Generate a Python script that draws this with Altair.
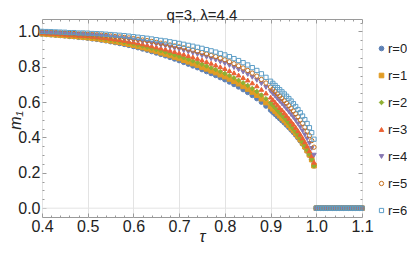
import altair as alt
import pandas as pd

# ---------------- data ----------------
series_names = ["r=0", "r=1", "r=2", "r=3", "r=4", "r=5", "r=6"]

tau_main = [0.40, 0.41, 0.42, 0.43, 0.44, 0.45, 0.46, 0.47, 0.48, 0.49,
            0.50, 0.51, 0.52, 0.53, 0.54, 0.55, 0.56, 0.57, 0.58, 0.59,
            0.60, 0.61, 0.62, 0.63, 0.64, 0.65, 0.66, 0.67, 0.68, 0.69,
            0.70, 0.71, 0.72, 0.73, 0.74, 0.75, 0.76, 0.77, 0.78, 0.79,
            0.80, 0.81, 0.82, 0.83, 0.84, 0.85, 0.86, 0.87, 0.88, 0.89,
            0.90,
            0.905, 0.91, 0.915, 0.92, 0.925, 0.93, 0.935, 0.94, 0.945, 0.95,
            0.955, 0.96, 0.965, 0.97, 0.975, 0.98, 0.985, 0.99, 0.995]

tau_zero = [1.000, 1.005, 1.010, 1.015, 1.020, 1.025, 1.030, 1.035, 1.040,
            1.045, 1.050, 1.055, 1.060, 1.065, 1.070, 1.075, 1.080, 1.085,
            1.090, 1.095, 1.100]

m_r0 = [.985, .983, .981, .979, .977, .975, .972, .970, .967, .965,
        .962, .958, .955, .951, .947, .942, .937, .932, .927, .921,
        .915, .908, .901, .894, .886, .878, .870, .862, .853, .844,
        .835, .825, .815, .805, .795, .784, .773, .762, .751, .739,
        .727, .714, .700, .686, .671, .655, .638, .620, .600, .578,
        .555,
        .543, .531, .519, .507, .495, .483, .470, .457, .443, .429,
        .414, .398, .381, .363, .344, .323, .300, .274, .240]

m_r1 = [.987, .985, .983, .981, .979, .977, .975, .973, .970, .968,
        .965, .962, .959, .955, .951, .947, .942, .938, .933, .927,
        .922, .915, .909, .902, .895, .887, .879, .872, .864, .855,
        .847, .837, .828, .818, .809, .798, .788, .777, .767, .755,
        .744, .731, .718, .704, .689, .674, .657, .639, .619, .597,
        .575,
        .562, .549, .536, .523, .510, .497, .483, .469, .454, .439,
        .423, .406, .388, .369, .348, .326, .302, .275, .240]

m_r2 = [.989, .987, .985, .984, .982, .980, .977, .976, .973, .972,
        .969, .966, .963, .960, .956, .952, .948, .944, .939, .934,
        .929, .923, .917, .911, .904, .897, .890, .883, .875, .867,
        .859, .851, .842, .833, .824, .814, .804, .794, .784, .773,
        .762, .750, .737, .723, .709, .694, .677, .660, .640, .619,
        .596,
        .582, .568, .553, .539, .525, .511, .496, .481, .464, .448,
        .431, .413, .394, .373, .352, .329, .304, .276, .240]

m_r3 = [.992, .990, .989, .987, .986, .984, .981, .980, .978, .977,
        .975, .972, .969, .967, .964, .960, .956, .953, .949, .944,
        .940, .935, .929, .924, .918, .912, .906, .900, .893, .886,
        .879, .871, .863, .855, .847, .838, .829, .820, .810, .800,
        .790, .778, .766, .753, .739, .725, .709, .692, .672, .651,
        .628,
        .614, .599, .584, .569, .555, .540, .524, .508, .491, .475,
        .457, .438, .418, .397, .375, .351, .325, .297, .260]

m_r4 = [.995, .993, .992, .991, .989, .988, .986, .985, .983, .982,
        .980, .978, .976, .974, .971, .968, .965, .962, .959, .955,
        .951, .946, .942, .938, .932, .927, .921, .917, .910, .904,
        .898, .891, .884, .877, .870, .862, .854, .845, .837, .827,
        .818, .807, .795, .783, .770, .756, .740, .723, .704, .683,
        .661,
        .647, .633, .618, .604, .590, .576, .560, .545, .529, .513,
        .496, .477, .458, .437, .415, .392, .366, .338, .300]

m_r5 = [.997, .996, .995, .993, .992, .991, .989, .988, .986, .986,
        .984, .982, .981, .979, .977, .974, .971, .969, .966, .963,
        .959, .955, .951, .948, .943, .938, .933, .929, .923, .918,
        .913, .907, .900, .894, .887, .880, .872, .864, .857, .848,
        .839, .828, .817, .805, .793, .779, .764, .747, .728, .708,
        .685,
        .673, .660, .647, .634, .621, .608, .594, .580, .565, .550,
        .534, .517, .499, .480, .458, .435, .410, .382, .345]

m_r6 = [1.000, .999, .998, .997, .996, .995, .993, .993, .991, .991,
        .990, .988, .987, .986, .984, .982, .980, .978, .976, .973,
        .970, .967, .964, .961, .957, .953, .949, .946, .941, .937,
        .932, .927, .921, .916, .910, .904, .897, .890, .883, .875,
        .867, .857, .846, .835, .823, .810, .795, .779, .760, .740,
        .718,
        .706, .694, .682, .670, .658, .646, .633, .620, .606, .591,
        .575, .558, .540, .521, .501, .479, .455, .427, .390]

all_m = [m_r0, m_r1, m_r2, m_r3, m_r4, m_r5, m_r6]

colors = ["#5E81B5", "#E19C24", "#8FB032", "#EB6235", "#8778B3", "#C56E1A", "#5D9EC7"]
fills = ["#5E81B5", "#E19C24", "#8FB032", "#EB6235", "#8778B3", "transparent", "transparent"]
shapes = ["circle", "square", "diamond", "triangle-up", "triangle-down", "circle", "square"]
sizes = [22, 18, 26, 24, 24, 24, 34]

x_ticks = [0.4, 0.5, 0.6, 0.7, 0.8, 0.9, 1.0, 1.1]
y_ticks = [0.0, 0.2, 0.4, 0.6, 0.8, 1.0]
x_minor = [0.42, 0.44, 0.46, 0.48, 0.52, 0.54, 0.56, 0.58, 0.62, 0.64, 0.66, 0.68,
           0.72, 0.74, 0.76, 0.78, 0.82, 0.84, 0.86, 0.88, 0.92, 0.94, 0.96, 0.98,
           1.02, 1.04, 1.06, 1.08]
y_minor = [0.05, 0.1, 0.15, 0.25, 0.3, 0.35, 0.45, 0.5, 0.55, 0.65, 0.7, 0.75,
           0.85, 0.9, 0.95, 1.05]

# ---------------- table ----------------
rows = []
for name, vals in zip(series_names, all_m):
    for t, m in zip(tau_main, vals):
        rows.append({"tau": t, "m": m, "r": name})
    for t in tau_zero:
        rows.append({"tau": t, "m": 0.0, "r": name})
df = pd.DataFrame(rows)
dummy = pd.DataFrame({"tau": [0.7], "m": [0.5]})
zero_line = pd.DataFrame({"m": [0.0]})

FONT = "Liberation Sans"
FRAME = "#9a9a9a"
TXT = "#222222"

xscale = alt.Scale(domain=[0.4, 1.1], nice=False, zero=False)
yscale = alt.Scale(domain=[-0.05, 1.07], nice=False, zero=False)

legend = alt.Legend(orient="none", legendX=333, legendY=23, direction="vertical",
                    padding=0, rowPadding=13, symbolStrokeWidth=1,
                    labelFontSize=13, labelFont=FONT, labelColor=TXT,
                    labelOffset=0, title=None)

grid0 = alt.Chart(zero_line).mark_rule(color="#e3e3e3", strokeWidth=1).encode(
    y=alt.Y("m:Q", scale=yscale, axis=None)
)

points = alt.Chart(df).mark_point(strokeWidth=1, opacity=1).encode(
    x=alt.X("tau:Q", scale=xscale,
            axis=alt.Axis(values=x_ticks, format=".1f", ticks=False, domain=False,
                          grid=True, gridColor="#e3e3e3", labelFontSize=16,
                          labelFont=FONT, labelColor=TXT, labelPadding=1,
                          labelFlush=False, labelOverlap=False,
                          title="τ", titleFont=FONT, titleFontSize=16,
                          titleFontStyle="italic", titleFontWeight="normal",
                          titleColor=TXT, titleX=160, titleY=19,
                          titleBaseline="middle", orient="bottom")),
    y=alt.Y("m:Q", scale=yscale,
            axis=alt.Axis(values=y_ticks, format=".1f", ticks=False, domain=False,
                          grid=False, labelFontSize=16, labelFont=FONT,
                          labelColor=TXT, labelPadding=2,
                          labelFlush=False, labelOverlap=False,
                          title="m₁", titleFont=FONT, titleFontSize=16,
                          titleFontStyle="italic", titleFontWeight="normal",
                          titleColor=TXT, titleAngle=270, titleX=-22,
                          titleY=101, titleAlign="center", titleBaseline="alphabetic",
                          orient="left")),
    stroke=alt.Stroke("r:N", scale=alt.Scale(domain=series_names, range=colors), legend=legend),
    fill=alt.Fill("r:N", scale=alt.Scale(domain=series_names, range=fills), legend=legend),
    shape=alt.Shape("r:N", scale=alt.Scale(domain=series_names, range=shapes), legend=legend),
    size=alt.Size("r:N", scale=alt.Scale(domain=series_names, range=sizes), legend=legend),
)


def tick_layer(xvals, yvals, size, xorient, yorient):
    return alt.Chart(dummy).mark_point(opacity=0).encode(
        x=alt.X("tau:Q", scale=xscale,
                axis=alt.Axis(values=xvals, orient=xorient, offset=-size, tickSize=size,
                              tickColor=FRAME, labels=False, domain=False, grid=False,
                              title=None)),
        y=alt.Y("m:Q", scale=yscale,
                axis=alt.Axis(values=yvals, orient=yorient, offset=-size, tickSize=size,
                              tickColor=FRAME, labels=False, domain=False, grid=False,
                              title=None)),
    )


ticks_a = tick_layer(x_ticks, y_ticks, 4, "bottom", "left")
ticks_b = tick_layer(x_minor, y_minor, 2, "bottom", "left")
ticks_c = tick_layer(x_ticks, y_ticks, 4, "top", "right")
ticks_d = tick_layer(x_minor, y_minor, 2, "top", "right")

chart = alt.layer(grid0, points, ticks_a, ticks_b, ticks_c, ticks_d).resolve_axis(
    x="independent", y="independent"
).properties(
    width=320, height=198,
    padding={"left": 34, "top": 11, "right": 45, "bottom": 33},
    autosize=alt.AutoSizeParams(type="none"),
    title=alt.TitleParams("q=3,  λ=4.4", fontSize=15, fontWeight="normal", font=FONT,
                          color=TXT, anchor="middle", offset=1, baseline="alphabetic",
                          frame="group", dy=17),
).configure_view(
    stroke=FRAME, strokeWidth=1
)

chart.save("out.html", embed_options={"renderer": "svg", "actions": False})
